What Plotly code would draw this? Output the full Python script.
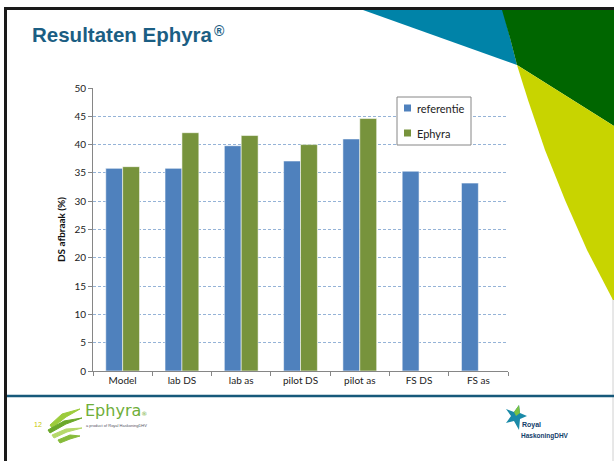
import plotly.graph_objects as go

W, H = 614, 461

categories = ["Model", "lab DS", "lab as", "pilot DS", "pilot as", "FS DS", "FS as"]
referentie = [35.8, 35.8, 39.8, 37.1, 41.0, 35.3, 33.2]
ephyra = [36.1, 42.1, 41.6, 40.0, 44.6, None, None]
y_ticks = [0, 5, 10, 15, 20, 25, 30, 35, 40, 45, 50]
series_names = ["referentie", "Ephyra"]
series_colors = ["#4f81bd", "#77933c"]


def px(x, y):
    return x / W, 1 - y / H


def path(points):
    parts = []
    for i, (x, y) in enumerate(points):
        a, b = px(x, y)
        parts.append(("M" if i == 0 else "L") + f"{a:.5f},{b:.5f}")
    return " ".join(parts) + " Z"


fig = go.Figure()
for name, vals, col in zip(series_names, [referentie, ephyra], series_colors):
    fig.add_trace(go.Bar(name=name, x=categories, y=vals,
                         marker=dict(color=col, line=dict(color="rgba(255,255,255,0.55)", width=1)),
                         showlegend=False))

shapes = []
# decorative corner shapes
shapes.append(dict(type="path", xref="paper", yref="paper", layer="above",
                   path=path([(363, 10), (503, 10), (517, 65)]),
                   fillcolor="#0083a8", line=dict(width=0)))
shapes.append(dict(type="path", xref="paper", yref="paper", layer="above",
                   path=path([(502, 10), (614, 10), (614, 126), (517, 65), (510, 38)]),
                   fillcolor="#006600", line=dict(width=0)))
shapes.append(dict(type="path", xref="paper", yref="paper", layer="above",
                   path=path([(517, 65), (528, 100), (545, 150), (565, 200), (587, 250), (600, 275), (613, 300),
                              (614, 300), (614, 126)]),
                   fillcolor="#c8d400", line=dict(width=0)))
# slide frame lines
shapes.append(dict(type="line", xref="paper", yref="paper", x0=px(4, 0)[0], x1=1, y0=px(0, 8.5)[1], y1=px(0, 8.5)[1],
                   line=dict(color="#1a1a1a", width=3), layer="above"))
shapes.append(dict(type="line", xref="paper", yref="paper", x0=px(5.5, 0)[0], x1=px(5.5, 0)[0], y0=0, y1=px(0, 7)[1],
                   line=dict(color="#1a1a1a", width=3), layer="above"))
shapes.append(dict(type="line", xref="paper", yref="paper", x0=px(613, 0)[0], x1=px(613, 0)[0], y0=0, y1=px(0, 10)[1],
                   line=dict(color="#d0d0d0", width=1), layer="below"))
shapes.append(dict(type="line", xref="paper", yref="paper", x0=px(7, 0)[0], x1=1, y0=px(0, 396)[1], y1=px(0, 396)[1],
                   line=dict(color="#17597a", width=2.5), layer="above"))
# legend box and swatches
lx0, lx1, ly0, ly1 = px(397, 0)[0], px(471, 0)[0], px(0, 145)[1], px(0, 97)[1]
shapes.append(dict(type="rect", xref="paper", yref="paper", x0=lx0, x1=lx1, y0=ly0, y1=ly1,
                   fillcolor="white", line=dict(color="#868686", width=1), layer="above"))
for i, col in enumerate(series_colors):
    cy = 108 + 25 * i
    shapes.append(dict(type="rect", xref="paper", yref="paper",
                       x0=px(404, 0)[0], x1=px(411, 0)[0], y0=px(0, cy + 3.5)[1], y1=px(0, cy - 3.5)[1],
                       fillcolor=col, line=dict(width=0), layer="above"))
# Ephyra logo grass strokes
grass = [
    [(50, 425), (62, 414), (80, 409), (66, 417), (52, 428)],
    [(48, 430), (64, 421), (82, 418), (66, 424), (50, 433)],
    [(52, 435), (66, 429), (82, 428), (67, 432), (54, 438)],
    [(58, 440), (70, 435), (80, 436), (70, 439), (60, 443)],
]
gcols = ["#9ccc3c", "#6aa82a", "#b5d96a", "#86bb3a"]
for g, c in zip(grass, gcols):
    shapes.append(dict(type="path", xref="paper", yref="paper", layer="above",
                       path=path(g), fillcolor=c, line=dict(color=c, width=1)))
# Royal HaskoningDHV star mark
shapes.append(dict(type="path", xref="paper", yref="paper", layer="above",
                   path=path([(506, 409), (514, 412), (519, 405), (520, 413), (527, 416), (520, 419),
                              (519, 430), (514, 421), (506, 423), (511, 416)]),
                   fillcolor="#1a8aa8", line=dict(width=0)))
shapes.append(dict(type="path", xref="paper", yref="paper", layer="above",
                   path=path([(514, 412), (519, 405), (520, 413), (516, 416)]),
                   fillcolor="#7cc242", line=dict(width=0)))

annotations = []
ax, ay = px(31, 34)
annotations.append(dict(xref="paper", yref="paper", x=ax, y=ay, xanchor="left", yanchor="middle",
                        text="<b>Resultaten Ephyra</b>", borderpad=0,
                        showarrow=False,
                        font=dict(family="Liberation Sans, Arial", size=20.5, color="#1b5e83")))
ax, ay = px(213, 31)
annotations.append(dict(xref="paper", yref="paper", x=ax, y=ay, xanchor="left", yanchor="middle",
                        text="<b>®</b>", borderpad=0,
                        showarrow=False,
                        font=dict(family="Liberation Sans, Arial", size=14, color="#1b5e83")))
for i, name in enumerate(series_names):
    ax, ay = px(415, 108 + 25 * i)
    annotations.append(dict(xref="paper", yref="paper", x=ax, y=ay, xanchor="left", yanchor="middle",
                            text=name, showarrow=False,
                            font=dict(family="Lato, Liberation Sans, Arial", size=11, color="#222")))
ax, ay = px(32, 424)
annotations.append(dict(xref="paper", yref="paper", x=ax, y=ay, xanchor="left", yanchor="middle",
                        text="12", showarrow=False,
                        font=dict(family="Liberation Sans, Arial", size=7, color="#c8c800")))
ax, ay = px(83, 410)
annotations.append(dict(xref="paper", yref="paper", x=ax, y=ay, xanchor="left", yanchor="middle",
                        text="Ephyra<span style='font-size:6px'>®</span>", showarrow=False,
                        font=dict(family="DejaVu Sans, Arial", size=16, color="#6fae3a")))
ax, ay = px(84, 425)
annotations.append(dict(xref="paper", yref="paper", x=ax, y=ay, xanchor="left", yanchor="middle",
                        text="a product of Royal HaskoningDHV", showarrow=False,
                        font=dict(family="Liberation Sans, Arial", size=4, color="#556")))
ax, ay = px(520, 425)
annotations.append(dict(xref="paper", yref="paper", x=ax, y=ay, xanchor="left", yanchor="middle",
                        text="<b>Royal</b>", showarrow=False,
                        font=dict(family="Liberation Sans, Arial", size=7, color="#13406a")))
ax, ay = px(519, 436)
annotations.append(dict(xref="paper", yref="paper", x=ax, y=ay, xanchor="left", yanchor="middle",
                        text="<b>HaskoningDHV</b>", showarrow=False,
                        font=dict(family="Liberation Sans, Arial", size=6.5, color="#13406a")))

x0d, _ = px(93, 0)
x1d, _ = px(508, 0)
_, y0d = px(0, 371)
_, y1d = px(0, 88)

fig.update_layout(
    width=W, height=H,
    margin=dict(l=0, r=0, t=0, b=0),
    paper_bgcolor="white", plot_bgcolor="white",
    barmode="group", bargap=0.43, bargroupgap=0,
    font=dict(family="Lato, Liberation Sans, Arial", size=10, color="#222"),
    xaxis=dict(domain=[x0d, x1d], automargin=False, showline=True, linecolor="#868686", linewidth=1,
               ticks="outside", tickson="boundaries", ticklen=4, tickcolor="#868686",
               tickfont=dict(size=10, color="#222"), showgrid=False),
    yaxis=dict(domain=[y0d, y1d], automargin=False, range=[0, 50], tickvals=y_ticks,
               showline=True, linecolor="#868686", linewidth=1,
               ticks="outside", ticklen=4, tickcolor="#868686",
               showgrid=True, gridcolor="#95b3d7", gridwidth=1, griddash="3px,2px",
               zeroline=False, tickfont=dict(size=10, color="#222"),
               title=dict(text="<b>DS afbraak (%)</b>", standoff=6, font=dict(size=10, color="#111"))),
    shapes=shapes,
    annotations=annotations,
    showlegend=False,
)

fig.write_html("out.html", config={"displayModeBar": False},
               post_script="document.body.style.margin='0';document.body.style.padding='0';"
                           "document.body.style.overflow='hidden';")
